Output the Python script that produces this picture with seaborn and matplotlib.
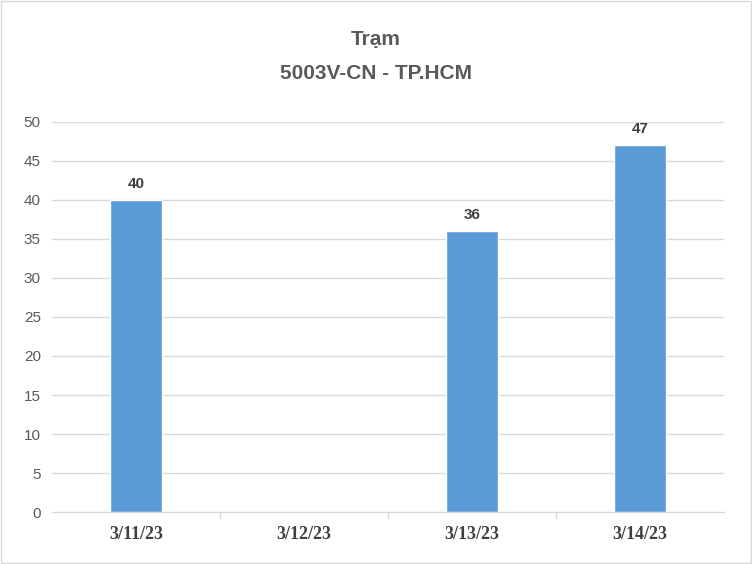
import matplotlib
matplotlib.use("Agg")
import matplotlib.pyplot as plt
import seaborn as sns
import numpy as np
import pandas as pd

dates = ["3/11/23", "3/12/23", "3/13/23", "3/14/23"]
values = [40, np.nan, 36, 47]
title_lines = ["Trạm", "5003V-CN - TP.HCM"]

df = pd.DataFrame({"date": dates, "value": values})

sns.set_style("white")
plt.rcParams['font.family'] = ['Liberation Sans', 'DejaVu Sans']
fig = plt.figure(figsize=(7.52, 5.64), dpi=100)
ax = fig.add_axes([0.069, 0.092, 0.894, 0.692])
sns.barplot(data=df, x="date", y="value", color="#5B9BD5", width=0.31, saturation=1, ax=ax)
ax.set_ylim(0, 50)
ax.set_xlim(-0.5, 3.5)
ax.set_yticks(range(0, 51, 5))
ax.yaxis.grid(True, color="#D9D9D9", linewidth=1)
ax.set_axisbelow(True)
for s in ["top", "right", "left"]:
    ax.spines[s].set_visible(False)
ax.spines["bottom"].set_color("#D9D9D9")
ax.set_xlabel("")
ax.set_ylabel("")
ax.tick_params(axis="y", length=0, labelsize=11, labelcolor="#595959", pad=8)
ax.set_xticks([0, 1, 2, 3])
ax.set_xticklabels(dates, fontfamily="Liberation Serif", fontweight="bold", fontsize=13, color="#404040")
ax.tick_params(axis="x", length=0, pad=10)
for b in [0.5, 1.5, 2.5]:
    ax.plot([b, b], [0, -0.014], transform=ax.get_xaxis_transform(), color="#D9D9D9", clip_on=False, lw=1)
for i, v in enumerate(values):
    if not np.isnan(v):
        ax.text(i, v + 1.2, f"{int(v)}", ha="center", va="bottom", fontsize=11, fontweight="bold", color="#404040")
fig.text(0.5, 0.93, title_lines[0], ha="center", va="center", fontsize=15, fontweight="bold", color="#595959")
fig.text(0.5, 0.87, title_lines[1], ha="center", va="center", fontsize=15, fontweight="bold", color="#595959")
fig.patches.append(plt.Rectangle((0.001, 0.001), 0.998, 0.998, transform=fig.transFigure, fill=False, edgecolor="#D9D9D9", lw=1))
fig.savefig("out.png", dpi=100)
